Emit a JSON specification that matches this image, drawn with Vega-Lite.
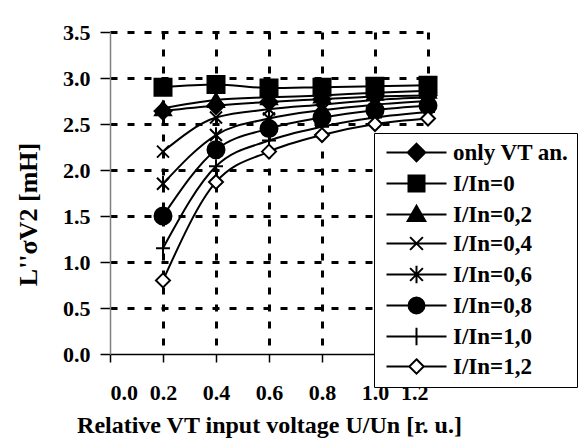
{
  "$schema": "https://vega.github.io/schema/vega-lite/v6.json",
  "width": 318,
  "height": 322,
  "autosize": "none",
  "padding": {"left": 110, "top": 32, "right": 156, "bottom": 90},
  "background": "white",
  "config": {
    "view": {"stroke": null},
    "font": "Liberation Serif",
    "axis": {
      "labelFont": "Liberation Serif", "labelFontWeight": "bold", "labelFontSize": 22, "labelColor": "black",
      "titleFont": "Liberation Serif", "titleFontWeight": "bold", "titleFontSize": 24, "titleColor": "black",
      "grid": true, "gridColor": "black", "gridWidth": 3, "gridDash": [7, 10],
      "tickColor": "black", "tickWidth": 1.5
    },
    "legend": {"labelFont": "Liberation Serif", "labelFontWeight": "bold", "labelFontSize": 23, "labelColor": "black", "symbolStrokeWidth": 2}
  },
  "data": {"values": [
    {"s": "only VT an.", "u": 0.2, "L": 2.64}, {"s": "only VT an.", "u": 0.4, "L": 2.70}, {"s": "only VT an.", "u": 0.6, "L": 2.74}, {"s": "only VT an.", "u": 0.8, "L": 2.77}, {"s": "only VT an.", "u": 1.0, "L": 2.80}, {"s": "only VT an.", "u": 1.2, "L": 2.81},
    {"s": "I/In=0", "u": 0.2, "L": 2.90}, {"s": "I/In=0", "u": 0.4, "L": 2.93}, {"s": "I/In=0", "u": 0.6, "L": 2.89}, {"s": "I/In=0", "u": 0.8, "L": 2.90}, {"s": "I/In=0", "u": 1.0, "L": 2.91}, {"s": "I/In=0", "u": 1.2, "L": 2.92},
    {"s": "I/In=0,2", "u": 0.2, "L": 2.67}, {"s": "I/In=0,2", "u": 0.4, "L": 2.76}, {"s": "I/In=0,2", "u": 0.6, "L": 2.79}, {"s": "I/In=0,2", "u": 0.8, "L": 2.81}, {"s": "I/In=0,2", "u": 1.0, "L": 2.84}, {"s": "I/In=0,2", "u": 1.2, "L": 2.86},
    {"s": "I/In=0,4", "u": 0.2, "L": 2.20}, {"s": "I/In=0,4", "u": 0.4, "L": 2.57}, {"s": "I/In=0,4", "u": 0.6, "L": 2.66}, {"s": "I/In=0,4", "u": 0.8, "L": 2.71}, {"s": "I/In=0,4", "u": 1.0, "L": 2.76}, {"s": "I/In=0,4", "u": 1.2, "L": 2.79},
    {"s": "I/In=0,6", "u": 0.2, "L": 1.85}, {"s": "I/In=0,6", "u": 0.4, "L": 2.38}, {"s": "I/In=0,6", "u": 0.6, "L": 2.56}, {"s": "I/In=0,6", "u": 0.8, "L": 2.65}, {"s": "I/In=0,6", "u": 1.0, "L": 2.71}, {"s": "I/In=0,6", "u": 1.2, "L": 2.75},
    {"s": "I/In=0,8", "u": 0.2, "L": 1.50}, {"s": "I/In=0,8", "u": 0.4, "L": 2.22}, {"s": "I/In=0,8", "u": 0.6, "L": 2.45}, {"s": "I/In=0,8", "u": 0.8, "L": 2.57}, {"s": "I/In=0,8", "u": 1.0, "L": 2.65}, {"s": "I/In=0,8", "u": 1.2, "L": 2.70},
    {"s": "I/In=1,0", "u": 0.2, "L": 1.15}, {"s": "I/In=1,0", "u": 0.4, "L": 2.04}, {"s": "I/In=1,0", "u": 0.6, "L": 2.32}, {"s": "I/In=1,0", "u": 0.8, "L": 2.47}, {"s": "I/In=1,0", "u": 1.0, "L": 2.57}, {"s": "I/In=1,0", "u": 1.2, "L": 2.63},
    {"s": "I/In=1,2", "u": 0.2, "L": 0.80}, {"s": "I/In=1,2", "u": 0.4, "L": 1.87}, {"s": "I/In=1,2", "u": 0.6, "L": 2.20}, {"s": "I/In=1,2", "u": 0.8, "L": 2.38}, {"s": "I/In=1,2", "u": 1.0, "L": 2.50}, {"s": "I/In=1,2", "u": 1.2, "L": 2.56}
  ]},
  "encoding": {
    "x": {
      "field": "u", "type": "quantitative",
      "scale": {"domain": [0, 1.2], "nice": false, "zero": false},
      "axis": {
        "values": [0, 0.2, 0.4, 0.6, 0.8, 1.0, 1.2], "format": ".1f",
        "title": "Relative VT input voltage U/Un [r. u.]",
        "domainColor": "black", "domainWidth": 1.5, "tickSize": 8, "labelPadding": 20,
        "titleY": 71, "titleBaseline": "middle",
        "gridOpacity": {"condition": {"test": "datum.value === 0", "value": 0}, "value": 1}
      }
    },
    "y": {
      "field": "L", "type": "quantitative",
      "scale": {"domain": [0, 3.5], "nice": false, "zero": false},
      "axis": {
        "values": [0, 0.5, 1.0, 1.5, 2.0, 2.5, 3.0, 3.5], "format": ".1f",
        "title": "L''σV2 [mH]", "titleFontSize": 26,
        "domainColor": "#808080", "domainWidth": 1.5, "tickSize": 10, "labelPadding": 10,
        "titleX": -82, "titleY": 182, "titleBaseline": "middle", "titleAlign": "center",
        "gridOpacity": {"condition": {"test": "datum.value === 0", "value": 0}, "value": 1}
      }
    }
  },
  "layer": [
    {
      "mark": {"type": "line", "interpolate": "monotone", "stroke": "black", "strokeWidth": 2},
      "encoding": {"detail": {"field": "s", "type": "nominal"}}
    },
    {
      "mark": {"type": "point", "stroke": "black", "strokeWidth": 2, "opacity": 1, "fillOpacity": 1},
      "encoding": {
        "shape": {
          "field": "s", "type": "nominal",
          "scale": {
            "domain": ["only VT an.", "I/In=0", "I/In=0,2", "I/In=0,4", "I/In=0,6", "I/In=0,8", "I/In=1,0", "I/In=1,2"],
            "range": ["diamond", "square", "triangle-up", "M-1,-1L1,1M-1,1L1,-1", "M-1,-1L1,1M-1,1L1,-1M0,-1.3V1.3", "circle", "M0,-1V1M-1,0H1", "diamond"]
          },
          "legend": null
        },
        "fill": {
          "condition": {"test": "datum.s === 'I/In=1,2'", "value": "white"},
          "value": "black"
        },
        "size": {
          "condition": [
            {"test": "datum.s === 'I/In=0,4' || datum.s === 'I/In=0,6'", "value": 144},
            {"test": "datum.s === 'I/In=1,0' || datum.s === 'I/In=1,2'", "value": 196},
            {"test": "datum.s === 'I/In=0,2'", "value": 256}
          ],
          "value": 289
        }
      }
    },
    {
      "transform": [{"filter": "false"}],
      "mark": {"type": "point", "strokeWidth": 2, "opacity": 1, "fillOpacity": 1},
      "encoding": {
        "shape": {
          "field": "s", "type": "nominal",
          "scale": {
            "domain": ["only VT an.", "I/In=0", "I/In=0,2", "I/In=0,4", "I/In=0,6", "I/In=0,8", "I/In=1,0", "I/In=1,2"],
            "range": [
              "M-3.75,0H-1M1,0H3.75M0,-1.1L1.1,0L0,1.1L-1.1,0Z",
              "M-3.75,0H-1M1,0H3.75M-1,-1H1V1H-1Z",
              "M-3.75,0H3.75M0,-1.1L1.1,0.8H-1.1Z",
              "M-3.75,0H3.75M-0.8,-0.8L0.8,0.8M-0.8,0.8L0.8,-0.8",
              "M-3.75,0H3.75M-0.8,-0.8L0.8,0.8M-0.8,0.8L0.8,-0.8M0,-1.1V1.1",
              "M-3.75,0H3.75M-1,0A1,1,0,1,1,1,0A1,1,0,1,1,-1,0Z",
              "M-3.75,0H3.75M0,-1.1V1.1",
              "M-3.75,0H-0.9M0.9,0H3.75M0,-0.9L0.9,0L0,0.9L-0.9,0Z"
            ]
          },
          "legend": {
            "title": null, "orient": "none", "legendX": 264, "legendY": 101,
            "strokeColor": "black", "fillColor": "white", "padding": 8, "rowPadding": 5,
            "symbolOffset": 23, "labelOffset": 25, "symbolStrokeWidth": 2,
            "symbolOpacity": 1, "labelBaseline": "middle"
          }
        },
        "fill": {
          "field": "s", "type": "nominal",
          "scale": {
            "domain": ["only VT an.", "I/In=0", "I/In=0,2", "I/In=0,4", "I/In=0,6", "I/In=0,8", "I/In=1,0", "I/In=1,2"],
            "range": ["black", "black", "black", "black", "black", "black", "black", "white"]
          },
          "legend": {
            "title": null, "orient": "none", "legendX": 264, "legendY": 101,
            "strokeColor": "black", "fillColor": "white", "padding": 8, "rowPadding": 5,
            "symbolOffset": 23, "labelOffset": 25, "symbolStrokeWidth": 2,
            "symbolOpacity": 1, "labelBaseline": "middle"
          }
        },
        "stroke": {
          "field": "s", "type": "nominal",
          "scale": {
            "domain": ["only VT an.", "I/In=0", "I/In=0,2", "I/In=0,4", "I/In=0,6", "I/In=0,8", "I/In=1,0", "I/In=1,2"],
            "range": ["black", "black", "black", "black", "black", "black", "black", "black"]
          },
          "legend": {
            "title": null, "orient": "none", "legendX": 264, "legendY": 101,
            "strokeColor": "black", "fillColor": "white", "padding": 8, "rowPadding": 5,
            "symbolOffset": 23, "labelOffset": 25, "symbolStrokeWidth": 2,
            "symbolOpacity": 1, "labelBaseline": "middle"
          }
        },
        "size": {
          "field": "s", "type": "nominal",
          "scale": {
            "domain": ["only VT an.", "I/In=0", "I/In=0,2", "I/In=0,4", "I/In=0,6", "I/In=0,8", "I/In=1,0", "I/In=1,2"],
            "range": [256, 256, 256, 256, 256, 256, 256, 256]
          },
          "legend": {
            "title": null, "orient": "none", "legendX": 264, "legendY": 101,
            "strokeColor": "black", "fillColor": "white", "padding": 8, "rowPadding": 5,
            "symbolOffset": 23, "labelOffset": 25, "symbolStrokeWidth": 2,
            "symbolOpacity": 1, "labelBaseline": "middle"
          }
        }
      }
    }
  ],
  "resolve": {"scale": {"shape": "independent", "fill": "independent", "size": "independent", "stroke": "independent"}}
}
